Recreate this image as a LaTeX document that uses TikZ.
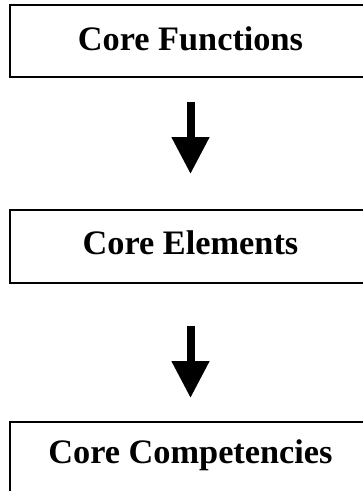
\documentclass[tikz,border=0pt]{standalone}
\usepackage{fontspec}
\setmainfont{Liberation Serif}
\usetikzlibrary{arrows.meta}
\begin{document}
\begin{tikzpicture}[x=1pt,y=1pt,
  box/.style={draw=black, line width=2pt, minimum width=361pt, inner sep=0pt,
    text depth=0pt, font=\fontsize{34.3}{40}\selectfont\bfseries},
  flow/.style={line width=8pt, -{Triangle[width=36pt,length=37pt]}}]
  \useasboundingbox (0,0) rectangle (363,-491);
  \clip (0,0) rectangle (363,-491);
  \fill[white] (0,0) rectangle (363,-491);
  % three stacked boxes
  \node[box, minimum height=72pt, text height=18pt] (fun) at (190.5,-41) {Core Functions};
  \node[box, minimum height=73pt, text height=15pt] (ele) at (190.5,-246.5) {Core Elements};
  \node[box, minimum height=72pt, text height=10pt] (com) at (190.5,-458) {Core Competencies};
  % block arrows between the boxes
  \draw[flow, shorten <=24pt, shorten >=35pt] (fun.south) -- (ele.north);
  \draw[flow, shorten <=42pt, shorten >=23pt] (ele.south) -- (com.north);
\end{tikzpicture}
\end{document}
